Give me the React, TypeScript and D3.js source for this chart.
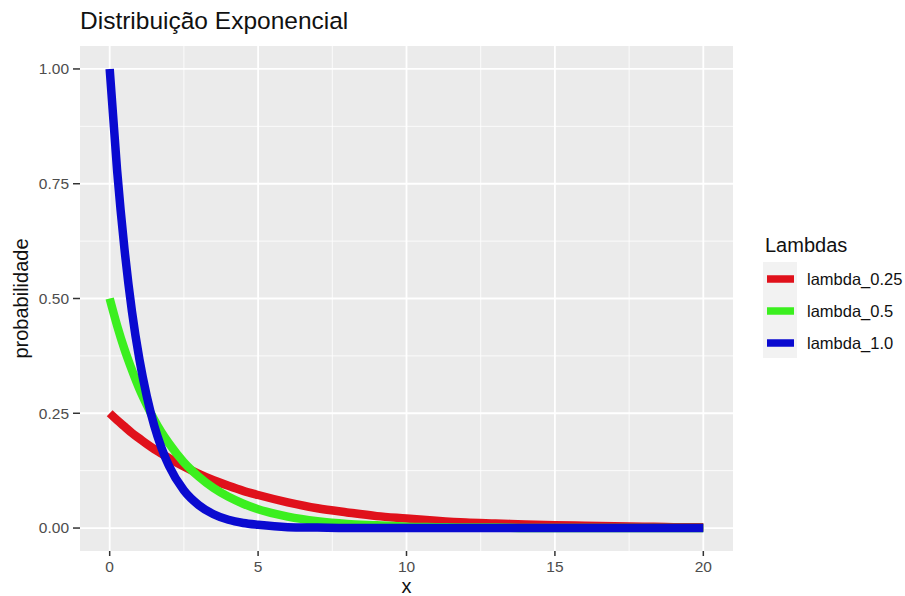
import * as React from 'react';
import * as d3 from 'd3';

// x grid shared by all curves
const xValues = [0, 0.25, 0.5, 0.75, 1, 1.25, 1.5, 1.75, 2, 2.5, 3, 3.5, 4, 4.5, 5, 6, 7, 8, 9, 10, 11, 12, 13, 14, 15, 16, 17, 18, 19, 20];

// densities
const lambda025 = [0.25, 0.235, 0.221, 0.207, 0.195, 0.183, 0.172, 0.162, 0.152, 0.134, 0.118, 0.104, 0.092, 0.081, 0.072, 0.056, 0.043, 0.034, 0.026, 0.021, 0.016, 0.012, 0.01, 0.008, 0.006, 0.005, 0.004, 0.003, 0.002, 0.002];
const lambda05 = [0.5, 0.441, 0.389, 0.344, 0.303, 0.268, 0.236, 0.208, 0.184, 0.143, 0.112, 0.087, 0.068, 0.053, 0.041, 0.025, 0.015, 0.009, 0.006, 0.003, 0.002, 0.001, 0.001, 0, 0, 0, 0, 0, 0, 0];
const lambda10 = [1.0, 0.779, 0.607, 0.472, 0.368, 0.287, 0.223, 0.174, 0.135, 0.082, 0.05, 0.03, 0.018, 0.011, 0.007, 0.002, 0.001, 0, 0, 0, 0, 0, 0, 0, 0, 0, 0, 0, 0, 0];

const seriesNames = ['lambda_0.25', 'lambda_0.5', 'lambda_1.0'];
const seriesColors = ['#e0111b', '#3bef1f', '#0a0ad0'];
const seriesValues = [lambda025, lambda05, lambda10];

const xTicks = [0, 5, 10, 15, 20];
const xMinor = [2.5, 7.5, 12.5, 17.5];
const yTicks = [0, 0.25, 0.5, 0.75, 1.0];
const yMinor = [0.125, 0.375, 0.625, 0.875];

const W = 905;
const H = 596;
const panel = { left: 80, right: 733, top: 46, bottom: 551 };
const font = 'Liberation Sans, Arial, sans-serif';

export default function App() {
  const x = d3.scaleLinear().domain([-1, 21]).range([panel.left, panel.right]);
  const y = d3.scaleLinear().domain([-0.05, 1.05]).range([panel.bottom, panel.top]);

  const line = d3.line<number>()
    .x((_, i) => x(xValues[i]))
    .y(d => y(d))
    .curve(d3.curveMonotoneX);

  const legendX = 763;
  const legendY = 262;
  const keyH = 32;

  return (
    <svg width={W} height={H} style={{ position: 'absolute', left: 0, top: 0, background: '#fff' }} fontFamily={font}>
      <text x={80} y={29} fontSize={24.5} fill="#111">Distribuição Exponencial</text>

      <rect x={panel.left} y={panel.top} width={panel.right - panel.left} height={panel.bottom - panel.top} fill="#ebebeb" />
      {xMinor.map(t => (
        <line key={'xm' + t} x1={x(t)} x2={x(t)} y1={panel.top} y2={panel.bottom} stroke="#fff" strokeWidth={0.8} />
      ))}
      {yMinor.map(t => (
        <line key={'ym' + t} y1={y(t)} y2={y(t)} x1={panel.left} x2={panel.right} stroke="#fff" strokeWidth={0.8} />
      ))}
      {xTicks.map(t => (
        <line key={'xg' + t} x1={x(t)} x2={x(t)} y1={panel.top} y2={panel.bottom} stroke="#fff" strokeWidth={1.8} />
      ))}
      {yTicks.map(t => (
        <line key={'yg' + t} y1={y(t)} y2={y(t)} x1={panel.left} x2={panel.right} stroke="#fff" strokeWidth={1.8} />
      ))}

      {seriesValues.map((vals, i) => (
        <path key={seriesNames[i]} d={line(vals) || ''} fill="none" stroke={seriesColors[i]} strokeWidth={8.5} strokeLinejoin="round" />
      ))}

      {/* y axis */}
      {yTicks.map(t => (
        <g key={'yt' + t}>
          <line x1={panel.left - 7} x2={panel.left} y1={y(t)} y2={y(t)} stroke="#333" strokeWidth={1.5} />
          <text x={panel.left - 11} y={y(t)} dy="0.35em" textAnchor="end" fontSize={15.5} fill="#4d4d4d">{d3.format('.2f')(t)}</text>
        </g>
      ))}
      {/* x axis */}
      {xTicks.map(t => (
        <g key={'xt' + t}>
          <line x1={x(t)} x2={x(t)} y1={panel.bottom} y2={panel.bottom + 5} stroke="#333" strokeWidth={1.5} />
          <text x={x(t)} y={572} textAnchor="middle" fontSize={15.5} fill="#4d4d4d">{t}</text>
        </g>
      ))}

      <text x={(panel.left + panel.right) / 2} y={593} textAnchor="middle" fontSize={20} fill="#111">x</text>
      <text transform={`translate(28, ${(panel.top + panel.bottom) / 2}) rotate(-90)`} textAnchor="middle" fontSize={20} fill="#111">probabilidade</text>

      {/* legend */}
      <text x={765} y={252} fontSize={20} fill="#111">Lambdas</text>
      {seriesNames.map((name, i) => (
        <g key={'lg' + name} transform={`translate(${legendX}, ${legendY + i * keyH})`}>
          <rect x={0} y={0} width={34} height={keyH} fill="#f2f2f2" />
          <line x1={4} x2={31} y1={keyH / 2 + 1} y2={keyH / 2 + 1} stroke={seriesColors[i]} strokeWidth={7.5} />
          <text x={44} y={keyH / 2 + 1} dy="0.35em" fontSize={16.5} fill="#111">{name}</text>
        </g>
      ))}
    </svg>
  );
}
